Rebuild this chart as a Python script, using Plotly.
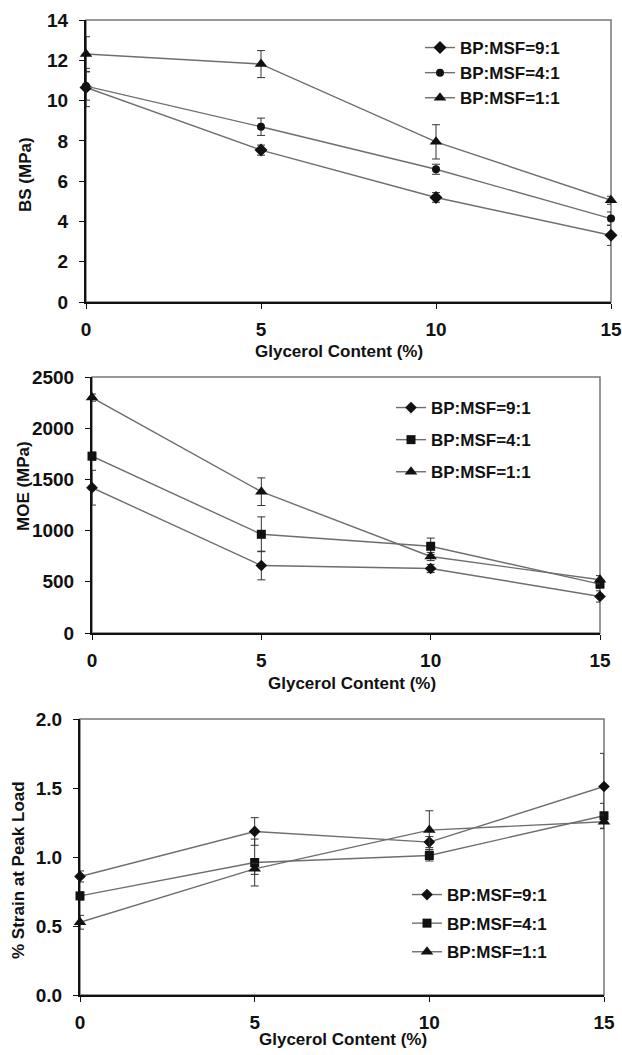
import plotly.graph_objects as go

# ---------------- data ----------------
glycerol = [0, 5, 10, 15]
x_ticks = [0, 5, 10, 15]
series_names = ["BP:MSF=9:1", "BP:MSF=4:1", "BP:MSF=1:1"]

bs_91 = [10.65, 7.54, 5.19, 3.31]
bs_91_err = [0.95, 0.25, 0.24, 0.5]
bs_41 = [10.72, 8.70, 6.59, 4.14]
bs_41_err = [0.7, 0.43, 0.25, 0.33]
bs_11 = [12.31, 11.81, 7.95, 5.05]
bs_11_err = [0.86, 0.67, 0.85, 0.2]

moe_91 = [1419, 659, 630, 357]
moe_91_err = [170, 140, 40, 55]
moe_41 = [1727, 964, 847, 477]
moe_41_err = [40, 170, 80, 40]
moe_11 = [2299, 1380, 747, 520]
moe_11_err = [35, 135, 40, 40]

strain_91 = [0.859, 1.185, 1.108, 1.511]
strain_91_err = [0.04, 0.10, 0.04, 0.24]
strain_41 = [0.718, 0.960, 1.011, 1.299]
strain_41_err = [0.03, 0.17, 0.04, 0.09]
strain_11 = [0.527, 0.914, 1.195, 1.255]
strain_11_err = [0.05, 0.04, 0.14, 0.05]

bs_title = "BS (MPa)"
moe_title = "MOE (MPa)"
strain_title = "% Strain at Peak Load"
x_title = "Glycerol Content (%)"

# ---------------- styling ----------------
W, H = 622, 1055
FONT = "Liberation Sans, Arial, sans-serif"
LINE_C = "#6e6e6e"
MARK_C = "#111111"
ERR_C = "#333333"


def px_x(p):
    return p / W


def px_y(p):
    return 1 - p / H


panels = [
    dict(ys=[bs_91, bs_41, bs_11], errs=[bs_91_err, bs_41_err, bs_11_err],
         symbols=["diamond", "circle", "triangle-up"], sizes=[10, 8, 11],
         xdom=[86, 611], ydom=[20, 302], yrange=[0, 14], dtick=2, fmt="d",
         ytitle=bs_title, ytitle_pos=(25, 175), xtitle_pos=(339, 351),
         legend_pos=(420, 30), gap=0),
    dict(ys=[moe_91, moe_41, moe_11], errs=[moe_91_err, moe_41_err, moe_11_err],
         symbols=["diamond", "square", "triangle-up"], sizes=[9, 9, 11],
         xdom=[92, 600], ydom=[377, 633], yrange=[0, 2500], dtick=500, fmt="d",
         ytitle=moe_title, ytitle_pos=(23, 486), xtitle_pos=(352, 683),
         legend_pos=(391, 390), gap=7),
    dict(ys=[strain_91, strain_41, strain_11], errs=[strain_91_err, strain_41_err, strain_11_err],
         symbols=["diamond", "square", "triangle-up"], sizes=[9, 9, 11],
         xdom=[80, 604], ydom=[719, 995], yrange=[0, 2.0], dtick=0.5, fmt=".1f",
         ytitle=strain_title, ytitle_pos=(18, 870), xtitle_pos=(343, 1039),
         legend_pos=(407, 877), gap=3.5),
]

fig = go.Figure()
layout = dict(
    width=W, height=H,
    margin=dict(l=0, r=0, t=0, b=0, autoexpand=False),
    paper_bgcolor="white", plot_bgcolor="white",
    font=dict(family=FONT, color="#111111"),
    showlegend=True,
)
annotations = []
shapes = []

for i, p in enumerate(panels, start=1):
    sfx = "" if i == 1 else str(i)
    for k in range(3):
        fig.add_trace(go.Scatter(
            x=glycerol, y=p["ys"][k], name=series_names[k],
            mode="lines+markers",
            line=dict(color=LINE_C, width=1.4),
            marker=dict(symbol=p["symbols"][k], size=p["sizes"][k], color=MARK_C),
            error_y=dict(type="data", array=p["errs"][k], visible=True,
                         color=ERR_C, thickness=1, width=4),
            cliponaxis=False,
            xaxis="x" + sfx, yaxis="y" + sfx,
            legend="legend" + sfx, legendgroup=f"g{i}{k}",
        ))
    layout["xaxis" + sfx] = dict(
        domain=[px_x(p["xdom"][0]), px_x(p["xdom"][1])],
        anchor="y" + sfx, range=[0, 15], automargin=False,
        tickvals=x_ticks, ticks="outside", ticklen=5, tickcolor="#111",
        tickfont=dict(size=19, weight="bold", family=FONT),
        ticklabelstandoff=4,
        showline=True, linecolor="#111", linewidth=2,
        showgrid=False, zeroline=False,
    )
    layout["yaxis" + sfx] = dict(
        domain=[px_y(p["ydom"][1]), px_y(p["ydom"][0])],
        anchor="x" + sfx, range=p["yrange"], dtick=p["dtick"], automargin=False,
        tickformat=p["fmt"], ticks="outside", ticklen=5, tickcolor="#111",
        tickfont=dict(size=19, weight="bold", family=FONT),
        ticklabelstandoff=7,
        showline=True, linecolor="#111", linewidth=2,
        showgrid=False, zeroline=False,
    )
    shapes.append(dict(type="rect", xref=f"x{sfx} domain", yref=f"y{sfx} domain",
                       x0=0, x1=1, y0=0, y1=1, line=dict(color="#777", width=1.5),
                       layer="below"))
    lx, ly = p["legend_pos"]
    layout["legend" + sfx] = dict(
        x=px_x(lx), y=px_y(ly), xanchor="left", yanchor="top",
        bgcolor="rgba(0,0,0,0)", traceorder="grouped", tracegroupgap=p["gap"],
        font=dict(size=17, weight="bold", family=FONT, color="#111"),
    )
    tx, ty = p["xtitle_pos"]
    annotations.append(dict(text=x_title, x=px_x(tx), y=px_y(ty), xref="paper", yref="paper",
                            showarrow=False, xanchor="center", yanchor="middle",
                            font=dict(size=17, weight="bold", family=FONT, color="#111")))
    yx, yy = p["ytitle_pos"]
    annotations.append(dict(text=p["ytitle"], x=px_x(yx), y=px_y(yy), xref="paper", yref="paper",
                            showarrow=False, xanchor="center", yanchor="middle", textangle=-90,
                            font=dict(size=17, weight="bold", family=FONT, color="#111")))

layout["annotations"] = annotations
layout["shapes"] = shapes
fig.update_layout(**layout)
fig.write_html(
    "out.html",
    config={"displayModeBar": False},
    post_script="document.body.style.margin='0';document.body.style.overflow='hidden';",
)
